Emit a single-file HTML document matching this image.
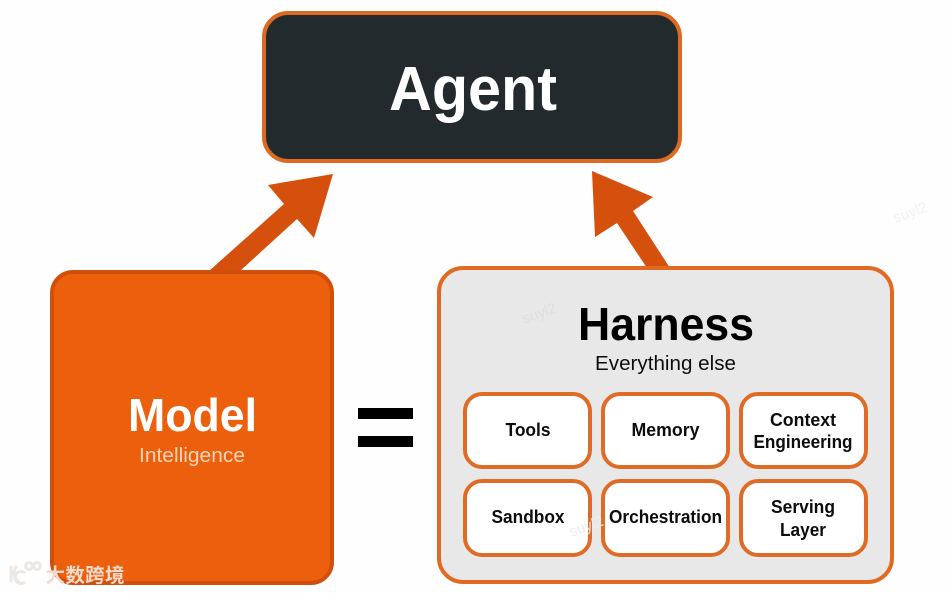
<!DOCTYPE html>
<html><head><meta charset="utf-8">
<style>
html,body{margin:0;padding:0;background:#fff;}
svg{display:block;}
text{font-family:"Liberation Sans","Noto Sans CJK SC",sans-serif;text-anchor:middle;}
</style></head>
<body>
<svg width="951" height="593" viewBox="0 0 951 593" xmlns="http://www.w3.org/2000/svg">
<defs><filter id="s" x="-5%" y="-5%" width="110%" height="110%"><feGaussianBlur stdDeviation="0.35"/></filter></defs>
<rect width="951" height="593" fill="#fefefe"/>
<g filter="url(#s)">
<rect x="264" y="13" width="416" height="148" rx="24" fill="#20292e" stroke="#dd6a24" stroke-width="4"/>
<text x="473" y="110" font-size="62" font-weight="700" fill="#fff" textLength="168" lengthAdjust="spacingAndGlyphs">Agent</text>

<polygon points="333,174 268,185 284,204 209,271 240,271 297,219 314,238" fill="#d5500f"/>
<polygon points="592,171 653,197 633,211 670,268 647,268 617,223 595,237" fill="#d5500f"/>

<rect x="52" y="272" width="280" height="311" rx="21" fill="#ec5f09" stroke="#d1500f" stroke-width="4"/>
<text x="192.500" y="431" font-size="46" font-weight="700" fill="#fff" textLength="129" lengthAdjust="spacingAndGlyphs">Model</text>
<text x="192" y="462" font-size="20.500" fill="#fbd5b8" textLength="106" lengthAdjust="spacingAndGlyphs">Intelligence</text>

<rect x="358" y="408" width="55" height="11" fill="#000"/>
<rect x="358" y="436" width="55" height="11" fill="#000"/>

<rect x="439" y="268" width="453" height="314" rx="24" fill="#e8e8e8" stroke="#e06a22" stroke-width="4"/>
<text x="666" y="340" font-size="46" font-weight="700" fill="#050505" textLength="176" lengthAdjust="spacingAndGlyphs">Harness</text>
<text x="665.500" y="370" font-size="20.500" fill="#111" textLength="141" lengthAdjust="spacingAndGlyphs">Everything else</text>

<g fill="#fff" stroke="#df6c26" stroke-width="4">
<rect x="465" y="394" width="125" height="73" rx="17"/>
<rect x="603" y="394" width="125" height="73" rx="17"/>
<rect x="741" y="394" width="125" height="73" rx="17"/>
<rect x="465" y="481" width="125" height="74" rx="17"/>
<rect x="603" y="481" width="125" height="74" rx="17"/>
<rect x="741" y="481" width="125" height="74" rx="17"/>
</g>
<g font-size="18" font-weight="700" fill="#0a0a0a">
<text x="528" y="436" textLength="45" lengthAdjust="spacingAndGlyphs">Tools</text>
<text x="665.500" y="436" textLength="68" lengthAdjust="spacingAndGlyphs">Memory</text>
<text x="803" y="426" textLength="66" lengthAdjust="spacingAndGlyphs">Context</text>
<text x="803" y="448" textLength="99" lengthAdjust="spacingAndGlyphs">Engineering</text>
<text x="528" y="523" textLength="73" lengthAdjust="spacingAndGlyphs">Sandbox</text>
<text x="665.500" y="523" textLength="113" lengthAdjust="spacingAndGlyphs">Orchestration</text>
<text x="803" y="513" textLength="64" lengthAdjust="spacingAndGlyphs">Serving</text>
<text x="803" y="536" textLength="46" lengthAdjust="spacingAndGlyphs">Layer</text>
</g>

<g font-size="15">
<text x="541" y="318" transform="rotate(-20 541 318)" fill="#dedede">suyl2</text>
<text x="912" y="217" transform="rotate(-20 912 217)" fill="#f1f1f1">suyl2</text>
<text x="588" y="531" transform="rotate(-20 588 531)" fill="#ededed">suyl2</text>
</g>

<g fill="none" stroke="#ece7e3" stroke-width="3">
<path d="M11 566V582M17 566C12 572 13 577 20 583"/>
<path d="M25 573a6 6 0 1 0 0 9"/>
<circle cx="29" cy="566" r="3.500"/>
<circle cx="37" cy="566" r="3.500"/>
</g>
<text x="85" y="582" font-size="19.500" font-weight="700" fill="#efdccf" textLength="79" style='font-family:"Noto Sans CJK SC",sans-serif'>大数跨境</text>
</g>
</svg>
</body></html>
